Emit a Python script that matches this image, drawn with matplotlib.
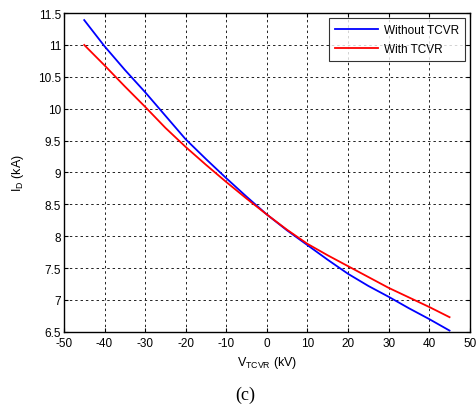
import matplotlib
matplotlib.use("Agg")
import matplotlib.pyplot as plt

plt.rcParams['font.family'] = ['Liberation Sans', 'DejaVu Sans']
plt.rcParams['axes.unicode_minus'] = False

v_tcvr = [-45, -40, -35, -30, -25, -20, -15, -10, -5, 0, 5, 10, 15, 20, 25, 30, 35, 40, 45]
i_without = [11.39, 10.98, 10.61, 10.26, 9.89, 9.52, 9.21, 8.91, 8.62, 8.34, 8.09, 7.86,
             7.63, 7.41, 7.22, 7.05, 6.87, 6.70, 6.52]
i_with = [11.0, 10.68, 10.35, 10.03, 9.70, 9.40, 9.12, 8.85, 8.59, 8.34, 8.10, 7.88,
          7.70, 7.53, 7.36, 7.19, 7.04, 6.89, 6.73]

fig = plt.figure(figsize=(4.77, 4.14), dpi=100)
ax = fig.add_axes([0.134, 0.196, 0.851, 0.770])

ax.plot(v_tcvr, i_without, color='#0000ff', lw=1.3, label='Without TCVR')
ax.plot(v_tcvr, i_with, color='#ff0000', lw=1.3, label='With TCVR')

ax.set_xlim(-50, 50)
ax.set_ylim(6.5, 11.5)
ax.set_xticks(range(-50, 51, 10))
ax.set_yticks([6.5, 7, 7.5, 8, 8.5, 9, 9.5, 10, 10.5, 11, 11.5])
ax.set_yticklabels(['6.5', '7', '7.5', '8', '8.5', '9', '9.5', '10', '10.5', '11', '11.5'])
ax.tick_params(direction='in', top=True, right=True, labelsize=8.5, length=3)
ax.tick_params(axis='x', pad=4)
ax.tick_params(axis='y', pad=2)
ax.grid(True, color='#222222', linestyle=(0, (2.5, 3)), lw=0.7)
for s in ax.spines.values():
    s.set_linewidth(1.0)

ax.set_xlabel(r'V$_{\mathregular{TCVR}}$ (kV)', fontsize=9, labelpad=3)
ax.set_ylabel(r'I$_{\mathregular{D}}$ (kA)', fontsize=9, labelpad=9)

leg = ax.legend(loc='upper right', fontsize=8.5, frameon=True, fancybox=False,
                edgecolor='black', borderaxespad=0.4, handlelength=3.6,
                labelspacing=0.55, borderpad=0.55, handletextpad=0.5)
leg.get_frame().set_linewidth(0.8)

fig.text(0.515, 0.035, '(c)', fontsize=13, family='Liberation Serif', ha='center')

fig.savefig('out.png', dpi=100)
